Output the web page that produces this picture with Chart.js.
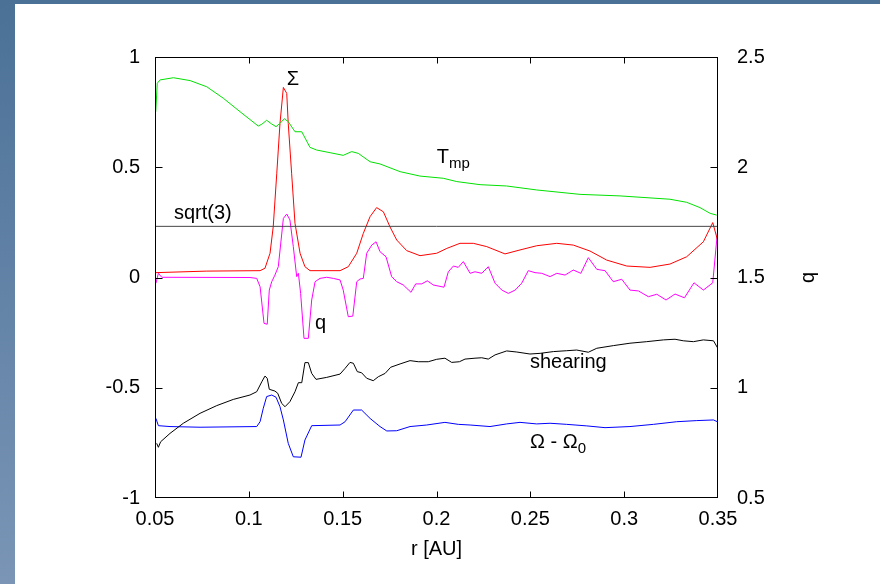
<!DOCTYPE html>
<html>
<head>
<meta charset="utf-8">
<script src="https://cdn.jsdelivr.net/npm/chart.js@4.4.1/dist/chart.umd.min.js"></script>
<style>
  html, body { margin: 0; padding: 0; }
  body {
    width: 880px; height: 584px; overflow: hidden; position: relative;
    background: linear-gradient(to bottom, #4b7197 0%, #7a95b6 100%);
  }
  #panel { position: absolute; left: 15px; top: 4px; width: 865px; height: 580px; background: #fff; }
  #wrap { position: absolute; left: 0; top: 0; width: 880px; height: 584px; }
</style>
</head>
<body>
<div id="panel"></div>
<div id="wrap"><canvas id="canvas"></canvas></div>
<script>
// T_mp (green), left axis
const tmpR = [0.0504, 0.0512, 0.0527, 0.0598, 0.0687, 0.0776, 0.0864, 0.0953, 0.1050, 0.1069,
  0.1095, 0.1122, 0.1145, 0.1166, 0.1189, 0.1210, 0.1246, 0.1282, 0.1326, 0.1362,
  0.1433, 0.1503, 0.1548, 0.1583, 0.1646, 0.1699, 0.1806, 0.1912, 0.2036, 0.2108,
  0.2232, 0.2374, 0.2534, 0.2765, 0.2978, 0.3244, 0.3333, 0.3404, 0.3458, 0.3493];
const tmpV = [0.752, 0.881, 0.896, 0.906, 0.893, 0.865, 0.813, 0.752, 0.687, 0.695,
  0.713, 0.696, 0.684, 0.699, 0.720, 0.707, 0.661, 0.661, 0.590, 0.578,
  0.566, 0.554, 0.571, 0.563, 0.525, 0.515, 0.480, 0.460, 0.450, 0.435,
  0.421, 0.415, 0.397, 0.377, 0.370, 0.355, 0.341, 0.317, 0.291, 0.283];

// Sigma (red), left axis
const sigmaR = [0.0504, 0.0776, 0.1060, 0.1086, 0.1113, 0.1130, 0.1149, 0.1166, 0.1184, 0.1202,
  0.1210, 0.1228, 0.1246, 0.1273, 0.1299, 0.1326, 0.1486, 0.1530, 0.1575, 0.1610,
  0.1646, 0.1681, 0.1717, 0.1752, 0.1788, 0.1841, 0.1912, 0.2001, 0.2055, 0.2125,
  0.2196, 0.2268, 0.2365, 0.2445, 0.2534, 0.2641, 0.2729, 0.2818, 0.2907, 0.3014,
  0.3138, 0.3244, 0.3333, 0.3422, 0.3472, 0.3499];
const sigmaV = [0.022, 0.029, 0.031, 0.042, 0.110, 0.230, 0.473, 0.699, 0.862, 0.835,
  0.699, 0.473, 0.246, 0.110, 0.049, 0.031, 0.031, 0.049, 0.110, 0.200,
  0.276, 0.317, 0.298, 0.230, 0.170, 0.122, 0.099, 0.110, 0.132, 0.155,
  0.155, 0.140, 0.107, 0.125, 0.144, 0.155, 0.147, 0.120, 0.079, 0.052,
  0.046, 0.061, 0.094, 0.162, 0.249, 0.165];

// q (magenta), right axis
const qR = [0.0505, 0.0518, 0.0536, 0.1006, 0.1042, 0.1060, 0.1081, 0.1098, 0.1109, 0.1122,
  0.1139, 0.1157, 0.1184, 0.1202, 0.1219, 0.1237, 0.1255, 0.1264, 0.1276, 0.1294,
  0.1317, 0.1335, 0.1353, 0.1379, 0.1415, 0.1450, 0.1486, 0.1503, 0.1530, 0.1554,
  0.1575, 0.1592, 0.1610, 0.1628, 0.1655, 0.1678, 0.1699, 0.1731, 0.1761, 0.1788,
  0.1823, 0.1864, 0.1889, 0.1921, 0.1951, 0.1983, 0.2040, 0.2063, 0.2090, 0.2116,
  0.2143, 0.2179, 0.2205, 0.2241, 0.2276, 0.2312, 0.2348, 0.2383, 0.2419, 0.2454,
  0.2489, 0.2525, 0.2561, 0.2605, 0.2641, 0.2685, 0.2729, 0.2769, 0.2809, 0.2854,
  0.2898, 0.2942, 0.2987, 0.3031, 0.3076, 0.3129, 0.3174, 0.3223, 0.3271, 0.3321,
  0.3372, 0.3422, 0.3472, 0.3499];
const qV = [1.474, 1.519, 1.501, 1.500, 1.496, 1.458, 1.292, 1.288, 1.443, 1.481,
  1.511, 1.549, 1.768, 1.788, 1.761, 1.640, 1.504, 1.519, 1.428, 1.224,
  1.224, 1.398, 1.481, 1.496, 1.501, 1.496, 1.489, 1.443, 1.322, 1.325,
  1.481, 1.493, 1.496, 1.610, 1.647, 1.662, 1.617, 1.594, 1.504, 1.481,
  1.466, 1.433, 1.471, 1.471, 1.485, 1.466, 1.456, 1.526, 1.552, 1.546,
  1.572, 1.519, 1.526, 1.519, 1.549, 1.474, 1.443, 1.428, 1.443, 1.474,
  1.531, 1.522, 1.519, 1.504, 1.519, 1.511, 1.534, 1.519, 1.590, 1.537,
  1.531, 1.481, 1.492, 1.443, 1.439, 1.413, 1.424, 1.398, 1.425, 1.408,
  1.476, 1.443, 1.476, 1.723];

// shearing (black), left axis
const shearR = [0.0509, 0.0518, 0.0530, 0.0580, 0.0651, 0.0740, 0.0829, 0.0917, 0.1006, 0.1042,
  0.1069, 0.1086, 0.1098, 0.1109, 0.1139, 0.1154, 0.1175, 0.1193, 0.1219, 0.1246,
  0.1264, 0.1282, 0.1299, 0.1317, 0.1335, 0.1358, 0.1415, 0.1486, 0.1513, 0.1539,
  0.1557, 0.1578, 0.1601, 0.1628, 0.1663, 0.1690, 0.1726, 0.1756, 0.1806, 0.1859,
  0.1903, 0.1956, 0.2001, 0.2045, 0.2081, 0.2122, 0.2152, 0.2205, 0.2241, 0.2276,
  0.2312, 0.2374, 0.2428, 0.2498, 0.2552, 0.2623, 0.2694, 0.2747, 0.2809, 0.2854,
  0.2942, 0.3031, 0.3120, 0.3209, 0.3271, 0.3315, 0.3369, 0.3422, 0.3476, 0.3499];
const shearV = [-0.752, -0.770, -0.745, -0.707, -0.661, -0.616, -0.581, -0.553, -0.533, -0.518,
  -0.473, -0.447, -0.457, -0.507, -0.515, -0.525, -0.571, -0.586, -0.563, -0.518,
  -0.477, -0.477, -0.386, -0.386, -0.435, -0.462, -0.453, -0.438, -0.412, -0.385,
  -0.389, -0.427, -0.432, -0.457, -0.468, -0.450, -0.435, -0.407, -0.392, -0.377,
  -0.382, -0.382, -0.371, -0.366, -0.385, -0.382, -0.370, -0.366, -0.364, -0.370,
  -0.351, -0.333, -0.338, -0.347, -0.344, -0.336, -0.332, -0.329, -0.339, -0.321,
  -0.309, -0.298, -0.291, -0.283, -0.280, -0.287, -0.291, -0.283, -0.287, -0.321];

// Omega - Omega_0 (blue), left axis
const omegaR = [0.0505, 0.0518, 0.0580, 0.0740, 0.1042, 0.1060, 0.1077, 0.1095, 0.1122, 0.1145,
  0.1166, 0.1184, 0.1210, 0.1237, 0.1278, 0.1299, 0.1335, 0.1486, 0.1513, 0.1557,
  0.1601, 0.1646, 0.1699, 0.1735, 0.1788, 0.1859, 0.1948, 0.2045, 0.2116, 0.2179,
  0.2285, 0.2374, 0.2445, 0.2534, 0.2605, 0.2694, 0.2801, 0.2898, 0.3031, 0.3156,
  0.3280, 0.3387, 0.3476, 0.3499];
const omegaV = [-0.639, -0.672, -0.676, -0.679, -0.676, -0.654, -0.593, -0.540, -0.533, -0.543,
  -0.586, -0.646, -0.752, -0.813, -0.815, -0.737, -0.672, -0.669, -0.654, -0.601,
  -0.601, -0.639, -0.676, -0.696, -0.695, -0.676, -0.669, -0.657, -0.666, -0.669,
  -0.676, -0.664, -0.657, -0.664, -0.661, -0.666, -0.673, -0.681, -0.676, -0.666,
  -0.654, -0.649, -0.646, -0.655];

// horizontal reference line q = sqrt(3)
const sqrt3R = [0.05, 0.35];
const sqrt3V = [1.732, 1.732];

const xTicks = [0.05, 0.1, 0.15, 0.2, 0.25, 0.3, 0.35];
const yTicks = [-1, -0.5, 0, 0.5, 1];
const y2Ticks = [0.5, 1, 1.5, 2, 2.5];

// curve labels, placed in data coordinates (left axis)
const notes = [
  { text: "Σ", r: 0.1235, v: 0.896, align: "center", base: "middle" },
  { text: "sqrt(3)", r: 0.0601, v: 0.265 },
  { text: "T", sub: "mp", r: 0.2001, v: 0.519 },
  { text: "q", r: 0.1353, v: -0.234 },
  { text: "shearing", r: 0.2498, v: -0.410 },
  { text: "Ω - Ω", sub: "0", r: 0.2498, v: -0.773 }
];

const FONT = '"Liberation Sans", Arial, Helvetica, sans-serif';
const SIZE = 20;
const pts = (rs, vs) => rs.map((r, i) => ({ x: r, y: vs[i] }));

function line(label, rs, vs, color, axis) {
  return {
    label, data: pts(rs, vs), borderColor: color, borderWidth: 1,
    pointRadius: 0, tension: 0, fill: false, yAxisID: axis
  };
}

const framePlugin = {
  id: "frame",
  afterDatasetsDraw(chart) {
    const { ctx, chartArea: a, scales } = chart;
    const L = Math.round(a.left) + 0.5, R = Math.round(a.right) - 0.5;
    const T = Math.round(a.top) + 0.5, B = Math.round(a.bottom) - 0.5;
    ctx.save();
    ctx.strokeStyle = "#000";
    ctx.lineWidth = 1;
    ctx.strokeRect(L, T, R - L, B - T);
    ctx.beginPath();
    xTicks.slice(1, -1).forEach(t => {
      const px = Math.round(scales.x.getPixelForValue(t)) + 0.5;
      ctx.moveTo(px, B); ctx.lineTo(px, B - 6);
      ctx.moveTo(px, T); ctx.lineTo(px, T + 6);
    });
    yTicks.slice(1, -1).forEach(t => {
      const py = Math.round(scales.y.getPixelForValue(t)) + 0.5;
      ctx.moveTo(L, py); ctx.lineTo(L + 7, py);
    });
    y2Ticks.slice(1, -1).forEach(t => {
      const py = Math.round(scales.y2.getPixelForValue(t)) + 0.5;
      ctx.moveTo(R, py); ctx.lineTo(R - 7, py);
    });
    ctx.stroke();

    // curve labels
    ctx.fillStyle = "#000";
    notes.forEach(n => {
      const x = scales.x.getPixelForValue(n.r);
      const y = scales.y.getPixelForValue(n.v);
      ctx.font = SIZE + "px " + FONT;
      ctx.textAlign = n.align || "left";
      ctx.textBaseline = n.base || "alphabetic";
      ctx.fillText(n.text, x, y);
      if (n.sub) {
        const w = ctx.measureText(n.text).width;
        ctx.font = "15px " + FONT;
        ctx.textAlign = "left";
        ctx.fillText(n.sub, x + w, y + 5);
      }
    });

    // axis titles
    ctx.font = SIZE + "px " + FONT;
    ctx.textAlign = "center";
    ctx.textBaseline = "middle";
    ctx.fillText("r [AU]", (a.left + a.right) / 2, a.bottom + 51);
    ctx.translate(808, (a.top + a.bottom) / 2);
    ctx.rotate(-Math.PI / 2);
    ctx.fillText("q", 0, 0);
    ctx.restore();
  }
};

const config = {
  type: "line",
  data: {
    datasets: [
      line("T_mp", tmpR, tmpV, "rgb(0, 225, 0)", "y"),
      line("sqrt(3)", sqrt3R, sqrt3V, "rgb(70, 70, 70)", "y2"),
      line("Sigma", sigmaR, sigmaV, "rgb(255, 0, 0)", "y"),
      line("q", qR, qV, "rgb(255, 0, 255)", "y2"),
      line("shearing", shearR, shearV, "rgb(0, 0, 0)", "y"),
      line("Omega - Omega_0", omegaR, omegaV, "rgb(0, 0, 255)", "y")
    ]
  },
  options: {
    responsive: false,
    animation: false,
    layout: { padding: { left: 0, right: 0, top: 57, bottom: 0 } },
    plugins: { legend: { display: false }, tooltip: { enabled: false } },
    scales: {
      x: {
        type: "linear", min: 0.05, max: 0.35,
        afterBuildTicks: s => { s.ticks = xTicks.map(v => ({ value: v })); },
        afterFit: s => { s.height = 86; },
        grid: { display: false, drawTicks: false },
        border: { display: false },
        ticks: {
          padding: 9, color: "#000", font: { family: FONT, size: SIZE },
          maxRotation: 0, autoSkip: false,
          callback: v => String(Number(v.toFixed(2)))
        }
      },
      y: {
        type: "linear", position: "left", min: -1, max: 1,
        afterBuildTicks: s => { s.ticks = yTicks.map(v => ({ value: v })); },
        afterFit: s => { s.width = 155; },
        grid: { display: false, drawTicks: false },
        border: { display: false },
        ticks: {
          padding: 15, color: "#000", font: { family: FONT, size: SIZE },
          callback: v => String(v)
        }
      },
      y2: {
        type: "linear", position: "right", min: 0.5, max: 2.5,
        afterBuildTicks: s => { s.ticks = y2Ticks.map(v => ({ value: v })); },
        afterFit: s => { s.width = 162; },
        grid: { display: false, drawTicks: false },
        border: { display: false },
        ticks: {
          padding: 19, color: "#000", font: { family: FONT, size: SIZE },
          callback: v => String(v)
        }
      }
    }
  },
  plugins: [framePlugin]
};

window.onload = function() {
  const cv = document.getElementById("canvas");
  cv.width = 880;
  cv.height = 584;
  new Chart(cv.getContext("2d"), config);
};
</script>
</body>
</html>
